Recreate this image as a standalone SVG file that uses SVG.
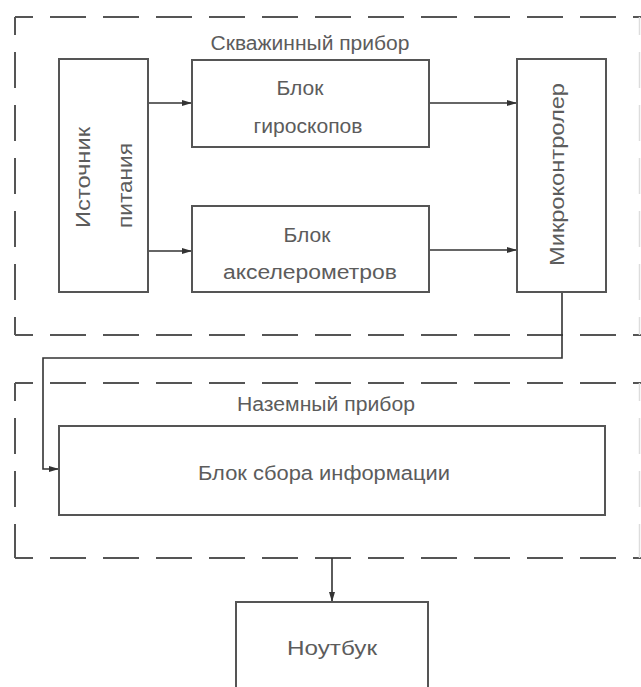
<svg xmlns="http://www.w3.org/2000/svg" width="641" height="687" viewBox="0 0 641 687">
<defs>
<marker id="arr" markerUnits="userSpaceOnUse" markerWidth="11" markerHeight="7" refX="10" refY="3" orient="auto">
<path d="M0,0 L10,3 L0,6 z" fill="#333"/>
</marker>
<style>
.box{fill:#fff;stroke:#555;stroke-width:2}
.dash{fill:none;stroke:#555;stroke-width:2;stroke-dasharray:36 17;stroke-dashoffset:18}
.faint{fill:none;stroke:#ddd;stroke-width:1.5;stroke-dasharray:36 17;stroke-dashoffset:18}
.con{fill:none;stroke:#333;stroke-width:1.6}
.t{font-family:"Liberation Sans",Arial,sans-serif;fill:#5c5c5c;font-size:20px}
</style>
</defs>
<rect width="641" height="687" fill="#fff"/>
<g id="frame-borehole">
<path class="dash" d="M15,17 H660"/>
<path class="dash" d="M15,17 V335"/>
<path class="dash" d="M15,335 H660"/>
<path class="faint" d="M639.5,17 V335"/>
<text class="t" x="310" y="50" text-anchor="middle" textLength="199" lengthAdjust="spacingAndGlyphs">Скважинный прибор</text>
</g>
<g id="frame-ground">
<path class="dash" d="M15,383 H660"/>
<path class="dash" d="M15,383 V558"/>
<path class="dash" d="M15,558 H660"/>
<path class="faint" d="M639.5,383 V558"/>
<text class="t" x="326" y="411" text-anchor="middle" textLength="178" lengthAdjust="spacingAndGlyphs">Наземный прибор</text>
</g>
<g id="connectors">
<path class="con" d="M148,103 H192" marker-end="url(#arr)"/>
<path class="con" d="M148,251 H192" marker-end="url(#arr)"/>
<path class="con" d="M429,103 H517" marker-end="url(#arr)"/>
<path class="con" d="M429,250 H517" marker-end="url(#arr)"/>
<path class="con" d="M562,292 V358 H43 V469 H59" marker-end="url(#arr)"/>
<path class="con" d="M332,558 V602" marker-end="url(#arr)"/>
</g>
<g id="power">
<rect class="box" x="59" y="59" width="89" height="233"/>
<text class="t" font-size="22" transform="translate(90,228) rotate(-90)" textLength="101" lengthAdjust="spacingAndGlyphs">Источник</text>
<text class="t" font-size="22" transform="translate(132,228) rotate(-90)" textLength="85" lengthAdjust="spacingAndGlyphs">питания</text>
</g>
<g id="gyro">
<rect class="box" x="192" y="60" width="237" height="87"/>
<text class="t" x="300" y="95" text-anchor="middle" font-size="21" textLength="47" lengthAdjust="spacingAndGlyphs">Блок</text>
<text class="t" x="308" y="133" text-anchor="middle" font-size="18" textLength="109" lengthAdjust="spacingAndGlyphs">гироскопов</text>
</g>
<g id="accel">
<rect class="box" x="192" y="206" width="237" height="86"/>
<text class="t" x="307" y="242" text-anchor="middle" font-size="21" textLength="47" lengthAdjust="spacingAndGlyphs">Блок</text>
<text class="t" x="310" y="279" text-anchor="middle" font-size="21" textLength="174" lengthAdjust="spacingAndGlyphs">акселерометров</text>
</g>
<g id="micro">
<rect class="box" x="517" y="59" width="89" height="233"/>
<text class="t" font-size="18" transform="translate(564,266) rotate(-90)" textLength="183" lengthAdjust="spacingAndGlyphs">Микроконтролер</text>
</g>
<g id="collector">
<rect class="box" x="59" y="426" width="546" height="89"/>
<text class="t" x="324" y="480" text-anchor="middle" textLength="252" lengthAdjust="spacingAndGlyphs">Блок сбора информации</text>
</g>
<g id="notebook">
<rect class="box" x="236" y="602" width="192" height="100"/>
<text class="t" x="332" y="655" text-anchor="middle" textLength="90" lengthAdjust="spacingAndGlyphs">Ноутбук</text>
</g>
</svg>
